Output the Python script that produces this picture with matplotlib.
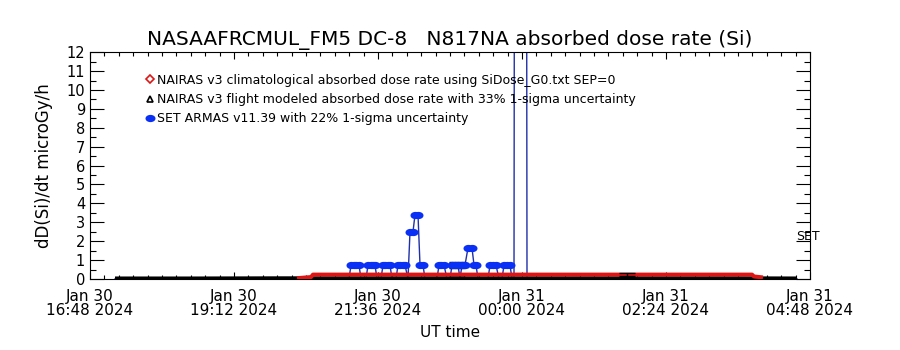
import datetime
import matplotlib
matplotlib.use('Agg')
import matplotlib.pyplot as plt
import matplotlib.dates as mdates
from matplotlib.path import Path
from matplotlib.lines import Line2D
from matplotlib.ticker import FixedLocator, AutoMinorLocator, MultipleLocator

# SET ARMAS v11.39 (blue)
set_times = ['17:13', '21:07', '21:09', '21:12', '21:14', '21:17', '21:19',
             '21:24', '21:26', '21:29', '21:31', '21:33', '21:35',
             '21:39', '21:41', '21:43', '21:46', '21:48', '21:50',
             '21:54', '21:56', '21:58', '22:01', '22:03', '22:06',
             '22:08', '22:11', '22:13', '22:16', '22:18', '22:21', '22:23',
             '22:35', '22:37', '22:39', '22:42', '22:45',
             '22:48', '22:50', '22:53', '22:56', '22:58', '23:00', '23:03',
             '23:06', '23:10', '23:12', '23:14', '23:16',
             '23:26', '23:28', '23:31', '23:34', '23:37',
             '23:40', '23:42', '23:45', '23:48', '23:50',
             '23:52', '23:53', '00:04', '00:05', '04:35']
set_vals = [0, 0, 0.74, 0.74, 0.74, 0.74, 0,
            0, 0.74, 0.74, 0.74, 0.74, 0,
            0, 0.74, 0.74, 0.74, 0.74, 0,
            0, 0.74, 0.74, 0.74, 0.74, 0,
            2.5, 2.5, 3.4, 3.4, 0.74, 0.74, 0,
            0, 0.74, 0.74, 0.74, 0,
            0, 0.74, 0.74, 0.74, 0, 0.74, 0.74,
            1.64, 1.64, 0.74, 0.74, 0,
            0, 0.74, 0.74, 0.74, 0,
            0, 0.74, 0.74, 0.74, 0,
            0, 45, 45, 0, 0]

# NAIRAS v3 flight modeled (black)
flt_times = ['17:13', '18:30', '20:00', '21:30', '23:00', '00:30', '02:00', '03:30', '04:35']
flt_vals = [0.05, 0.05, 0.06, 0.06, 0.06, 0.06, 0.06, 0.06, 0.05]

# NAIRAS v3 climatological (red)
clim_times = ['20:15', '20:29', '20:31', '22:00', '00:00', '02:00', '03:50', '03:52', '04:01']
clim_vals = [0.04, 0.10, 0.23, 0.23, 0.23, 0.23, 0.23, 0.13, 0.08]

# uncertainty bars
err_times = ['22:55', '22:55', '01:45']
err_vals = [0.74, 0.06, 0.23]
err_size = [0.16, 0.05, 0.08]

tick_start = datetime.datetime(2024, 1, 30, 16, 48)
tick_step = 144  # minutes


def t(s):
    h, m = map(int, s.split(':'))
    day = 30 if h >= 12 else 31
    return datetime.datetime(2024, 1, day, h, m)


set_x = [t(s) for s in set_times]
flt_x = [t(s) for s in flt_times]
clim_x = [t(s) for s in clim_times]
err_x = [t(s) for s in err_times]

blue_line = '#2030a8'
blue_mark = '#0a30f5'
red = '#dd1515'

# wide ellipse marker like the IDL symbol
ell = Path.unit_circle()
ell = Path(ell.vertices * [1.0, 0.68], ell.codes)

fig = plt.figure(figsize=(9, 3.5), dpi=100)
ax = fig.add_axes([0.1, 0.203, 0.8, 0.648])

ax.plot(set_x, set_vals, color=blue_line, lw=1.0, zorder=1)
ax.plot(flt_x, flt_vals, color='black', lw=2.2, solid_capstyle='butt', zorder=2)
ax.plot(clim_x, clim_vals, color=red, lw=2.9, solid_capstyle='butt', zorder=3)
ax.errorbar(err_x, err_vals, yerr=err_size, fmt='none', ecolor='black',
            elinewidth=1.0, capsize=5.5, capthick=1.0, zorder=4)
mx = [x for x, v in zip(set_x, set_vals) if 0.5 < v < 12]
my = [v for v in set_vals if 0.5 < v < 12]
ax.plot(mx, my, ls='none', marker=ell, ms=6.2, color=blue_mark, zorder=5)

ticks = [tick_start + datetime.timedelta(minutes=tick_step * i) for i in range(6)]
ax.set_xlim(ticks[0], ticks[-1])
ax.set_ylim(0, 12)
ax.xaxis.set_major_locator(FixedLocator(mdates.date2num(ticks)))
ax.xaxis.set_minor_locator(AutoMinorLocator(10))
ax.xaxis.set_major_formatter(mdates.DateFormatter('%b %d\n%H:%M %Y'))
ax.yaxis.set_major_locator(MultipleLocator(1))
ax.yaxis.set_minor_locator(MultipleLocator(0.5))

ax.tick_params(axis='x', which='major', direction='in', top=True, length=5,
               width=0.8, pad=7, labelsize=11)
ax.tick_params(axis='x', which='minor', direction='in', top=True, length=3, width=0.8)
ax.tick_params(axis='y', which='major', direction='in', right=True, length=10,
               width=0.8, pad=3.5, labelsize=10.5)
ax.tick_params(axis='y', which='minor', direction='in', right=True, length=4, width=0.8)
for lab in ax.get_xticklabels():
    lab.set_linespacing(0.95)
for sp in ax.spines.values():
    sp.set_linewidth(0.8)

ax.set_title('NASAAFRCMUL_FM5 DC-8   N817NA absorbed dose rate (Si)', fontsize=14.5, pad=5)
ax.set_ylabel('dD(Si)/dt microGy/h', fontsize=12)
ax.yaxis.set_label_coords(-0.051, 0.5)
ax.set_xlabel('UT time', fontsize=11)
ax.xaxis.set_label_coords(0.5, -0.205)

handles = [
    Line2D([], [], ls='none', marker='D', ms=4, mfc='none', mec=red, mew=1.2),
    Line2D([], [], ls='none', marker='^', ms=5, mfc='none', mec='black', mew=1.2),
    Line2D([], [], ls='none', marker=ell, ms=6.2, color=blue_mark),
]
labels = ['NAIRAS v3 climatological absorbed dose rate using SiDose_G0.txt SEP=0',
          'NAIRAS v3 flight modeled absorbed dose rate with 33% 1-sigma uncertainty',
          'SET ARMAS v11.39 with 22% 1-sigma uncertainty']
ax.legend(handles, labels, loc='upper left', bbox_to_anchor=(0.077, 0.905),
          frameon=False, fontsize=9, handlelength=0.8, handletextpad=0.15,
          labelspacing=0.5, borderpad=0, borderaxespad=0)

ax.text(0.981, 0.185, 'SET', transform=ax.transAxes, fontsize=9, va='center')

fig.savefig('out.png', dpi=100)
